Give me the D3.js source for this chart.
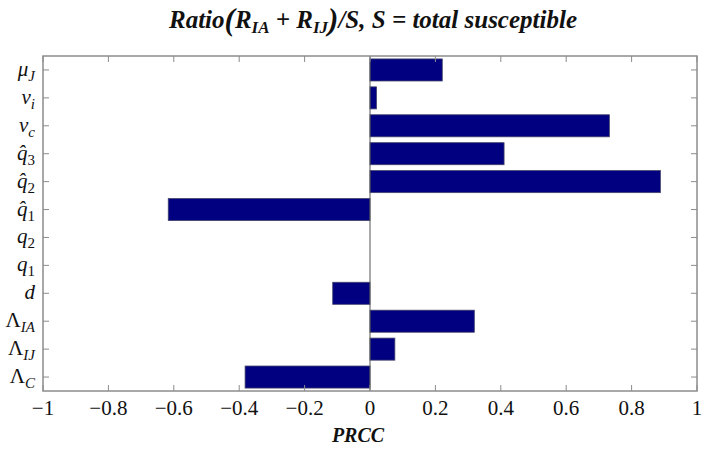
<!DOCTYPE html>
<html><head><meta charset="utf-8">
<script src="https://cdn.jsdelivr.net/npm/d3@7"></script>
<style>body{margin:0;background:#fff}svg{display:block}</style>
</head><body>
<svg id="c" width="702" height="451"></svg>
<script>
// data
const categories = ["muJ","nui","nuc","q3h","q2h","q1h","q2","q1","d","LIA","LIJ","LC"];
const prcc = [0.221, 0.02, 0.732, 0.41, 0.888, -0.617, 0, 0, -0.114, 0.319, 0.076, -0.382];
const xTicks = [-1,-0.8,-0.6,-0.4,-0.2,0,0.2,0.4,0.6,0.8,1];
// label pieces: [main, subscript, hat]
const labelParts = {
  muJ:["μ","J",false], nui:["ν","i",false], nuc:["ν","c",false],
  q3h:["q","3",true], q2h:["q","2",true], q1h:["q","1",true],
  q2:["q","2",false], q1:["q","1",false], d:["d","",false],
  LIA:["Λ","IA",false], LIJ:["Λ","IJ",false], LC:["Λ","C",false]
};

const svg = d3.select("#c");
const L=43, R=697, T=56, B=391;
const x = d3.scaleLinear().domain([-1,1]).range([L,R]);
const y = d3.scaleBand().domain(categories).range([T,B]).paddingInner(0.21).paddingOuter(0.105);
const yc = d => y(d)+y.bandwidth()/2;
const axisCol="#8c8c8c";
const font="'Liberation Serif',serif";

// bars
svg.append("g").selectAll("rect").data(categories).join("rect")
  .attr("x",(d,i)=>x(Math.min(0,prcc[i])))
  .attr("width",(d,i)=>Math.abs(x(prcc[i])-x(0)))
  .attr("y",d=>y(d)).attr("height",y.bandwidth())
  .attr("fill","#000080").attr("stroke","#44446a").attr("stroke-width",0.8);

// zero line
svg.append("line").attr("x1",x(0)).attr("x2",x(0)).attr("y1",T).attr("y2",B)
  .attr("stroke","#555").attr("stroke-width",1);

// frame
svg.append("rect").attr("x",L).attr("y",T).attr("width",R-L).attr("height",B-T)
  .attr("fill","none").attr("stroke",axisCol).attr("stroke-width",1.5);

// x ticks (bottom & top, inward)
const tk=6;
const gx=svg.append("g");
xTicks.forEach(t=>{
  gx.append("line").attr("x1",x(t)).attr("x2",x(t)).attr("y1",B).attr("y2",B-tk).attr("stroke",axisCol);
  gx.append("line").attr("x1",x(t)).attr("x2",x(t)).attr("y1",T).attr("y2",T+tk).attr("stroke",axisCol);
  gx.append("text").attr("x",x(t)).attr("y",B+24).attr("text-anchor","middle")
    .attr("font-family",font).attr("font-size",21).attr("fill","#111")
    .text(t<0?"−"+String(-t):String(t));
});
// y ticks (left & right, inward)
categories.forEach(c=>{
  gx.append("line").attr("x1",L).attr("x2",L+tk).attr("y1",yc(c)).attr("y2",yc(c)).attr("stroke",axisCol);
  gx.append("line").attr("x1",R).attr("x2",R-tk).attr("y1",yc(c)).attr("y2",yc(c)).attr("stroke",axisCol);
});

// y labels
const gy=svg.append("g");
categories.forEach(c=>{
  const [m,s,h]=labelParts[c];
  const t=gy.append("text").attr("x",L-8).attr("y",yc(c)+6).attr("text-anchor","end")
    .attr("font-family",font).attr("font-size",21).attr("fill","#111");
  t.append("tspan").attr("font-style",m==="Λ"?"normal":"italic").text(m+(h?"\u0302":""));
  if(s) t.append("tspan").attr("dy",5).attr("font-size",15)
    .attr("font-style",/[0-9]/.test(s)?"normal":"italic").text(s);
});

// title
const title=svg.append("text").attr("x",373).attr("y",28).attr("text-anchor","middle")
  .attr("font-family",font).attr("font-size",25).attr("font-weight","bold")
  .attr("font-style","italic").attr("fill","#111");
title.append("tspan").text("Ratio");
title.append("tspan").attr("font-size",31).attr("dy",2).text("(");
title.append("tspan").attr("dy",-2).text("R");
title.append("tspan").attr("font-size",17).attr("dy",5).text("IA");
title.append("tspan").attr("dy",-5).text(" + R");
title.append("tspan").attr("font-size",17).attr("dy",5).text("IJ");
title.append("tspan").attr("font-size",31).attr("dy",-3).text(")");
title.append("tspan").attr("dy",-2).text("/S, S = total susceptible");

// x label
svg.append("text").attr("x",x(0)-12).attr("y",442).attr("text-anchor","middle")
  .attr("font-family",font).attr("font-size",20).attr("font-weight","bold")
  .attr("font-style","italic").attr("fill","#111").text("PRCC");
</script>
</body></html>
